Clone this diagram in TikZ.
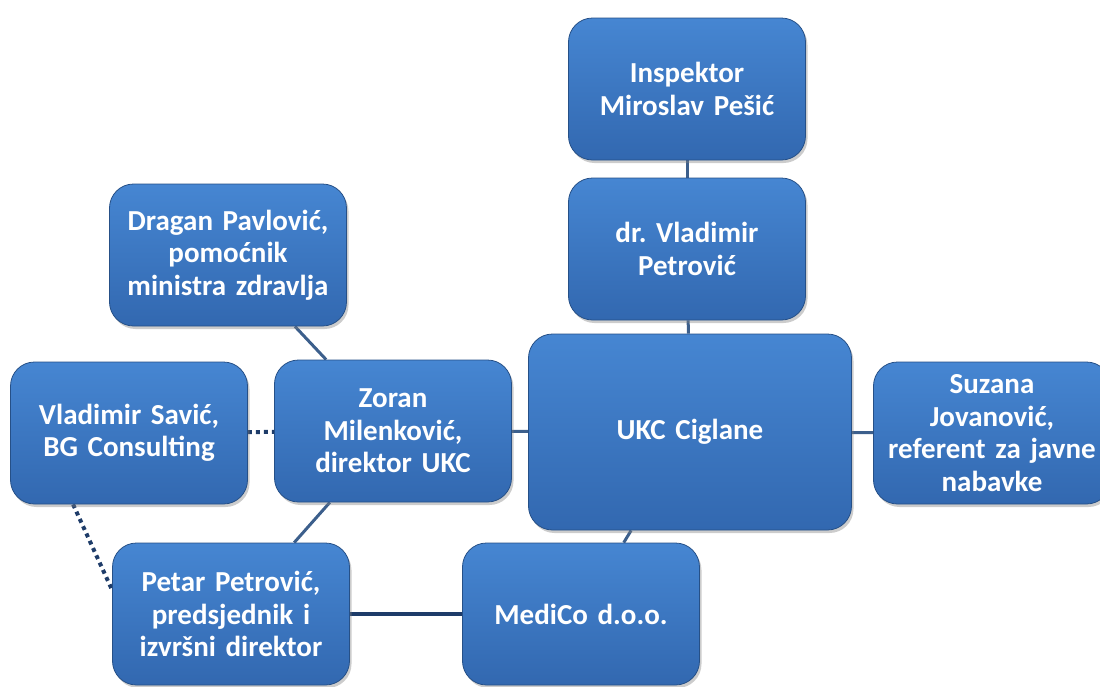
\documentclass[tikz,border=0pt]{standalone}
\usepackage{fontspec}
\setmainfont[WordSpace=0.85]{Carlito}
\usetikzlibrary{shadows,backgrounds}

\definecolor{boxtop}{RGB}{70,134,210}
\definecolor{boxmid}{RGB}{60,120,196}
\definecolor{boxbot}{RGB}{50,104,176}
\definecolor{boxline}{RGB}{38,80,135}
\definecolor{linkcol}{RGB}{60,95,140}
\definecolor{dotcol}{RGB}{30,60,105}

\tikzset{
  person/.style={draw=boxline, line width=0.8pt, rounded corners=24pt,
    top color=boxtop, middle color=boxmid, bottom color=boxbot,
    minimum width=237pt, minimum height=142pt, text width=228pt,
    align=center, text=white, font=\fontsize{29}{32.5}\selectfont\bfseries,
    drop shadow={opacity=0.4, shadow xshift=2pt, shadow yshift=-3pt}},
  link/.style={draw=linkcol, line width=3pt},
  hint/.style={draw=dotcol, line width=4pt, dash pattern=on 4pt off 4pt}
}

\begin{document}
\frenchspacing
\begin{tikzpicture}[x=1pt,y=-1pt]
  \path[use as bounding box, clip] (0,0) rectangle (1100,686);
  % boxes
  \node[person] (insp) at (687,89) {Inspektor\\Miroslav Pešić};
  \node[person] (petrovic) at (687,249) {dr. Vladimir\\Petrović};
  \node[person] (dragan) at (228,255) {Dragan Pavlović,\\pomoćnik\\ministra zdravlja};
  \node[person] (savic) at (129,433) {Vladimir Savić,\\BG Consulting};
  \node[person] (zoran) at (393,431) {Zoran\\Milenković,\\direktor UKC};
  \node[person, minimum width=323pt, minimum height=196pt] (ukc) at (690,432) {UKC Ciglane};
  \node[person] (suzana) at (992,433) {Suzana\\Jovanović,\\referent za javne\\nabavke};
  \node[person] (petar) at (231,614) {Petar Petrović,\\predsjednik i\\izvršni direktor};
  \node[person] (medico) at (581,614) {MediCo d.o.o.};
  % links
  \begin{scope}[on background layer]
    \draw[link] (insp) -- (petrovic);
    \draw[link] (petrovic) -- (ukc);
    \draw[link] (dragan) -- (zoran);
    \draw[link] (zoran) -- (ukc);
    \draw[link] (ukc) -- (suzana);
    \draw[link] (zoran) -- (petar);
    \draw[link] (ukc) -- (medico);
    \draw[link, draw=dotcol, line width=4pt] (petar) -- (medico);
    \draw[hint] (savic) -- (zoran);
    \draw[hint] ([xshift=63pt]savic.south west) -- ([yshift=24pt]petar.west);
  \end{scope}
\end{tikzpicture}
\end{document}
